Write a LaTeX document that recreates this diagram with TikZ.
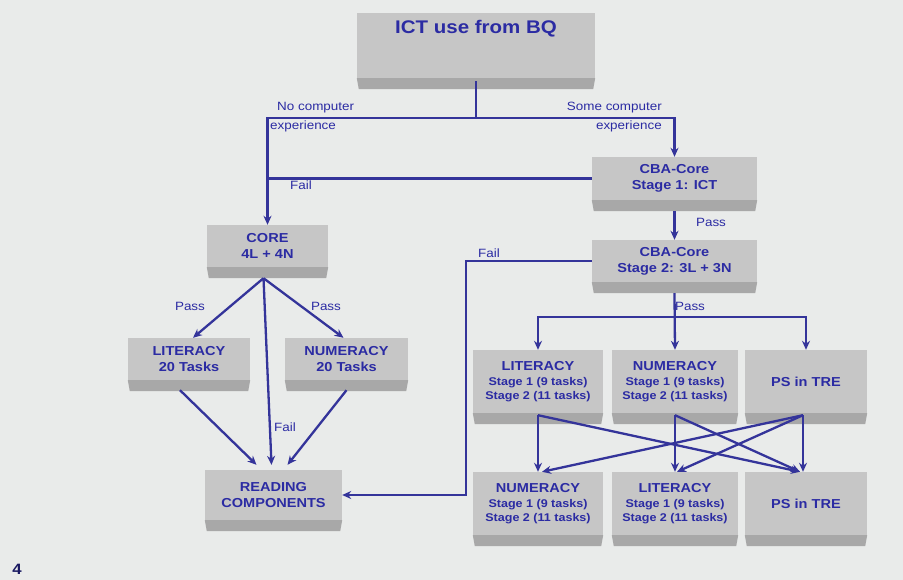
\documentclass[tikz,border=0pt]{standalone}
\usepackage{fontspec}
\setmainfont{Liberation Sans}[FakeStretch=1.12]
\usetikzlibrary{arrows.meta,calc}
\definecolor{bg}{HTML}{E9EBEA}
\definecolor{boxgray}{HTML}{C6C6C6}
\definecolor{bevelgray}{HTML}{A8A8A8}
\definecolor{txtblue}{HTML}{2B2BA3}
\definecolor{linec}{HTML}{34349A}
\newcommand\bevelbelow[1]{\fill[bevelgray] (#1.south west) -- (#1.south east) -- ([xshift=-2pt,yshift=-11pt]#1.south east) -- ([xshift=2pt,yshift=-11pt]#1.south west) -- cycle;}
\tikzset{
  face/.style={fill=boxgray, inner sep=0pt, align=center, text=txtblue, font=\bfseries\fontsize{13}{16}\selectfont},
  stagebox/.style={face, font=\bfseries\fontsize{11.2}{14}\selectfont},
  conn/.style={draw=linec, line width=2.3pt},
  arr/.style={conn, -{Stealth[length=9pt,width=8pt]}},
  lbl/.style={text=txtblue, font=\fontsize{12}{14}\selectfont, inner sep=0pt},
  titletext/.style={text=txtblue, font=\bfseries\fontsize{18.3}{20}\selectfont, inner sep=0pt}
}
\newcommand\headline[1]{{\fontsize{13}{16}\selectfont #1}}
\begin{document}
\begin{tikzpicture}[x=1pt,y=-1pt]
\useasboundingbox (0,0) rectangle (903,580);
\fill[bg] (0,0) rectangle (903,580);

% boxes
\node[face, minimum width=238pt, minimum height=65pt] (ict) at (476,45.5) {};
\node[titletext] (icttitle) at (476,29) {ICT use from BQ};
\node[face, minimum width=165pt, minimum height=43pt] (cba1) at (674.5,178.5) {CBA-Core\\Stage 1: ICT};
\node[face, minimum width=165pt, minimum height=42pt] (cba2) at (674.5,261) {CBA-Core\\Stage 2: 3L + 3N};
\node[face, minimum width=121pt, minimum height=42pt] (core) at (267.5,246) {CORE\\4L + 4N};
\node[face, minimum width=122pt, minimum height=42pt] (lit) at (189,359) {LITERACY\\20 Tasks};
\node[face, minimum width=123pt, minimum height=42pt] (num) at (346.5,359) {NUMERACY\\20 Tasks};
\node[face, minimum width=137pt, minimum height=50pt] (read) at (273.5,495) {READING\\COMPONENTS};

\node[stagebox, minimum width=130pt, minimum height=63pt] (lit1) at (538,381.5) {\headline{LITERACY}\\[1pt]Stage 1 (9 tasks)\\Stage 2 (11 tasks)};
\node[stagebox, minimum width=126pt, minimum height=63pt] (num1) at (675,381.5) {\headline{NUMERACY}\\[1pt]Stage 1 (9 tasks)\\Stage 2 (11 tasks)};
\node[face, minimum width=122pt, minimum height=63pt] (ps1) at (806,381.5) {PS in TRE};
\node[stagebox, minimum width=130pt, minimum height=63pt] (num2) at (538,503.5) {\headline{NUMERACY}\\[1pt]Stage 1 (9 tasks)\\Stage 2 (11 tasks)};
\node[stagebox, minimum width=126pt, minimum height=63pt] (lit2) at (675,503.5) {\headline{LITERACY}\\[1pt]Stage 1 (9 tasks)\\Stage 2 (11 tasks)};
\node[face, minimum width=122pt, minimum height=63pt] (ps2) at (806,503.5) {PS in TRE};

\bevelbelow{ict}
\bevelbelow{cba1}
\bevelbelow{cba2}
\bevelbelow{core}
\bevelbelow{lit}
\bevelbelow{num}
\bevelbelow{read}
\bevelbelow{lit1}
\bevelbelow{num1}
\bevelbelow{ps1}
\bevelbelow{num2}
\bevelbelow{lit2}
\bevelbelow{ps2}

% connectors
\coordinate (split) at (476,118);
\draw[conn] ([yshift=-3pt]ict.south) -- (split);
\draw[arr] (split) -| (core.north);
\draw[arr] (split) -| (cba1.north);
\draw[conn] (cba1.west) -- (cba1.west -| core.north);
\draw[arr] ([yshift=-11pt]cba1.south) -- (cba2.north);
\coordinate (bend) at (466,495);
\draw[arr] (cba2.west) -| (bend) -- (read.east);

\coordinate (corebot) at ([xshift=-4pt,yshift=-11pt]core.south);
\draw[arr] (corebot) -- ([xshift=4pt]lit.north);
\draw[arr] (corebot) -- ([xshift=-3pt]num.north);
\draw[arr] (corebot) -- ([xshift=-2pt,yshift=5pt]read.north);
\draw[arr] ([xshift=-9pt,yshift=-10pt]lit.south) -- ([xshift=-17pt,yshift=5pt]read.north);
\draw[arr] ([yshift=-10pt]num.south) -- ([xshift=14pt,yshift=5pt]read.north);

\coordinate (fan) at (674.5,317);
\draw[arr] ([yshift=-11pt]cba2.south) -- (num1.north);
\draw[arr] (fan) -| (lit1.north);
\draw[arr] (fan) -| (ps1.north);

\draw[arr] ([yshift=-2pt]lit1.south) -- (num2.north);
\draw[arr] ([yshift=-2pt]lit1.south) -- ([xshift=-6pt]ps2.north);
\draw[arr] ([yshift=-2pt]num1.south) -- (lit2.north);
\draw[arr] ([yshift=-2pt]num1.south) -- ([xshift=-6pt]ps2.north);
\draw[arr] ([xshift=-3pt,yshift=-2pt]ps1.south) -- ([xshift=-3pt]ps2.north);
\draw[arr] ([xshift=-3pt,yshift=-2pt]ps1.south) -- ([xshift=4pt]num2.north);
\draw[arr] ([xshift=-3pt,yshift=-2pt]ps1.south) -- ([xshift=2pt]lit2.north);

% labels
\node[lbl, anchor=west] (nc1) at (277,108) {No computer};
\node[lbl, anchor=west] (nc2) at (270,126) {experience};
\node[lbl, anchor=east] (sc1) at (662,108) {Some computer};
\node[lbl, anchor=east] (sc2) at (662,126) {experience};
\node[lbl] (fail1) at (301,185) {Fail};
\node[lbl] (pass1) at (711,222) {Pass};
\node[lbl] (fail2) at (489,253) {Fail};
\node[lbl] (pass2) at (190,306) {Pass};
\node[lbl] (pass3) at (326,306) {Pass};
\node[lbl] (fail3) at (285,427) {Fail};
\node[lbl] (pass4) at (690,306) {Pass};
\node[text=txtblue!60!black, font=\bfseries\fontsize{15}{17}\selectfont, inner sep=0pt] (pagenum) at (17,569) {4};
\end{tikzpicture}
\end{document}
